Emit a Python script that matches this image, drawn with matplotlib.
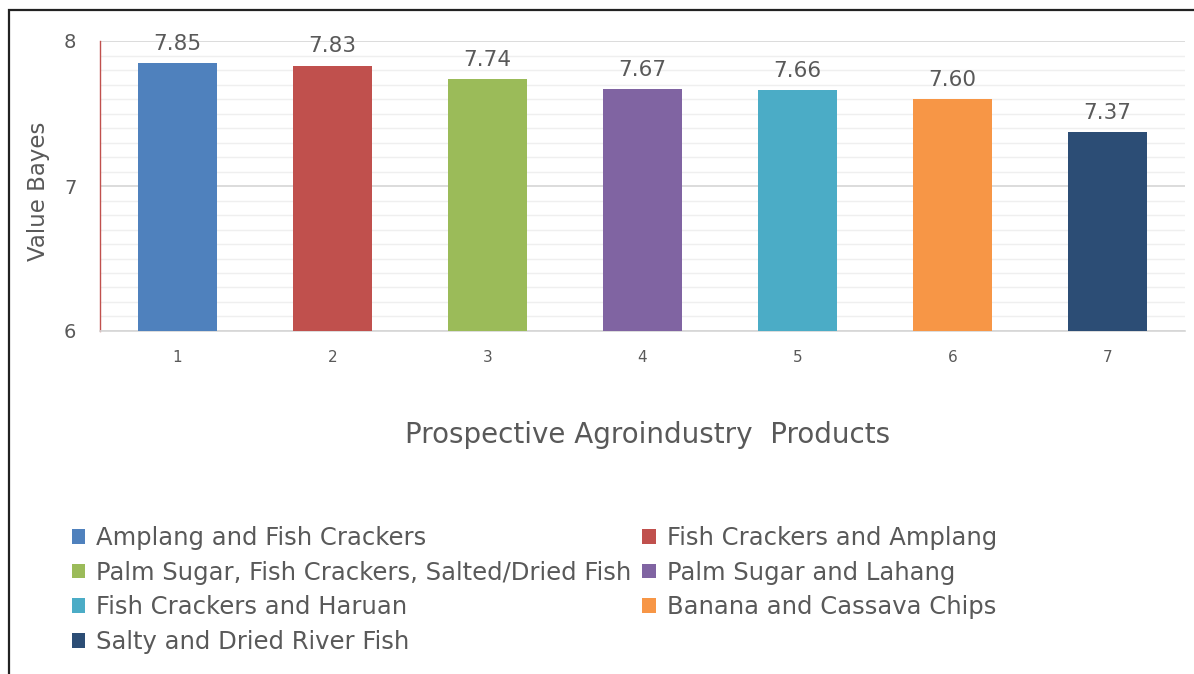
import matplotlib
matplotlib.use("Agg")
import matplotlib.pyplot as plt
from matplotlib.patches import Patch, Rectangle
from matplotlib.ticker import MultipleLocator

categories = ["1", "2", "3", "4", "5", "6", "7"]
values = [7.85, 7.83, 7.74, 7.67, 7.66, 7.60, 7.37]
value_labels = ["7.85", "7.83", "7.74", "7.67", "7.66", "7.60", "7.37"]
names = ["Amplang and Fish Crackers", "Fish Crackers and Amplang",
         "Palm Sugar, Fish Crackers, Salted/Dried Fish", "Palm Sugar and Lahang",
         "Fish Crackers and Haruan", "Banana and Cassava Chips",
         "Salty and Dried River Fish"]
colors = ["#4F81BD", "#C0504D", "#9BBB59", "#8064A2", "#4BACC6", "#F79646", "#2C4D75"]

plt.rcParams['font.family'] = ['DejaVu Sans']
txt = "#595959"

fig = plt.figure(figsize=(11.94, 6.74), dpi=100)
ax = fig.add_axes([100/1194, 1-331/674, 1085/1194, 290/674])

x = list(range(len(categories)))
ax.bar(x, values, width=0.516, color=colors, zorder=3)
ax.set_ylim(6, 8)
ax.set_xlim(-0.5, len(categories)-0.5)
ax.set_xticks(x)
ax.set_xticklabels(categories, fontsize=11, color=txt)
ax.set_yticks([6, 7, 8])
ax.set_yticklabels(["6", "7", "8"], fontsize=14, color=txt)
ax.yaxis.set_minor_locator(MultipleLocator(0.1))
ax.tick_params(axis='y', which='both', length=0, pad=17)
ax.tick_params(axis='x', length=0, pad=14)
ax.grid(axis='y', which='major', color='#D6D6D6', linewidth=1.2, zorder=0)
ax.grid(axis='y', which='minor', color='#EFEFEF', linewidth=1.0, zorder=0)
for s in ['top', 'right']:
    ax.spines[s].set_visible(False)
ax.spines['left'].set_color('#C0504D')
ax.spines['left'].set_linewidth(1.0)
ax.spines['bottom'].set_color('#D6D6D6')
ax.spines['bottom'].set_linewidth(1.2)

for xi, v, lab in zip(x, values, value_labels):
    ax.annotate(lab, (xi, v), xytext=(0, 9.5), textcoords='offset points',
                ha='center', va='baseline', fontsize=15.5, color=txt)

ax.set_ylabel("Value Bayes", fontsize=16.5, color=txt)
ax.yaxis.set_label_coords(-50/1085, 0.48)
ax.set_xlabel("Prospective Agroindustry  Products", fontsize=20, color=txt)
ax.xaxis.set_label_coords(0.505, -90/290)

handles = [Patch(facecolor=c, edgecolor='none') for c in colors]
order = [0, 2, 4, 6, 1, 3, 5]
fig.legend([handles[i] for i in order], [names[i] for i in order],
           ncol=2, loc='upper left', bbox_to_anchor=(72/1194, 1-526/674),
           frameon=False, fontsize=17.5, labelcolor=txt, borderpad=0, borderaxespad=0,
           handlelength=0.55, handleheight=0.55, handletextpad=0.45,
           labelspacing=0.44, columnspacing=0.45)

fig.patches.append(Rectangle((9/1194, -0.05), 1.2, 1-10/674+0.05, transform=fig.transFigure,
                             fill=False, edgecolor='#222222', linewidth=1.6))

fig.savefig("out.png", dpi=100)
